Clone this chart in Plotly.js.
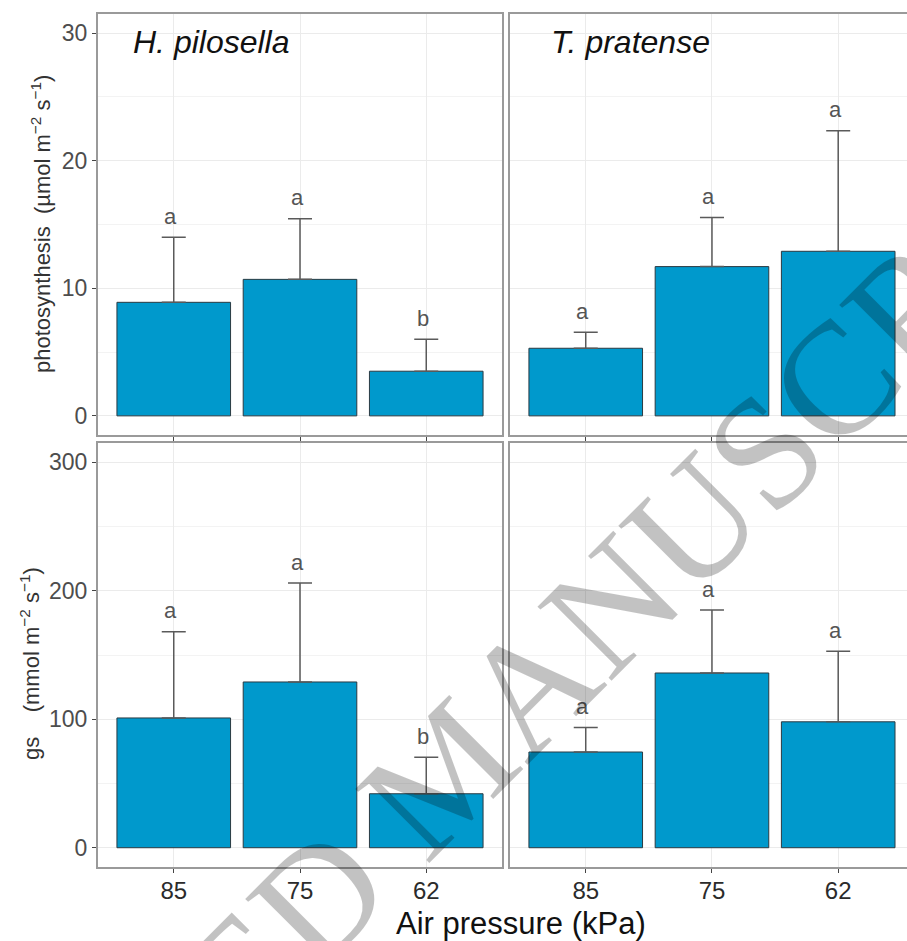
<!DOCTYPE html>
<html>
<head>
<meta charset="utf-8">
<script src="https://cdn.plot.ly/plotly-3.0.1.min.js"></script>
<style>html,body{margin:0;padding:0;background:#fff;}#chart{width:907px;height:941px;}</style>
</head>
<body>
<div id="chart"></div>
<script>
// ---- data ----
const categories = ['85', '75', '62'];
const species = ['H. pilosella', 'T. pratense'];

const photoHP = [8.9, 10.7, 3.5];
const photoHPerr = [5.1, 4.75, 2.5];
const photoHPletters = ['a', 'a', 'b'];

const photoTP = [5.3, 11.7, 12.9];
const photoTPerr = [1.25, 3.85, 9.45];
const photoTPletters = ['a', 'a', 'a'];

const gsHP = [101, 129, 42];
const gsHPerr = [67, 77, 28.5];
const gsHPletters = ['a', 'a', 'b'];

const gsTP = [74.5, 136, 98];
const gsTPerr = [19, 49, 55];
const gsTPletters = ['a', 'a', 'a'];

const yTitlePhoto = 'photosynthesis  (µmol m<sup>−2</sup> s<sup>−1</sup>)';
const yTitleGs = 'gs    (mmol m<sup>−2</sup> s<sup>−1</sup>)';
const xTitle = 'Air pressure (kPa)';
const watermark = 'ACCEPTED MANUSCRIPT';

// ---- layout helpers ----
const W = 907, H = 941;
const px = p => p / W;
const py = p => 1 - p / H;
const FONT = 'Liberation Sans, Arial, Helvetica, sans-serif';
const barColor = '#0099cc';

const panels = [
  {vals: gsHP, err: gsHPerr, letters: gsHPletters, xa: 'x', ya: 'y'},
  {vals: gsTP, err: gsTPerr, letters: gsTPletters, xa: 'x2', ya: 'y2'},
  {vals: photoHP, err: photoHPerr, letters: photoHPletters, xa: 'x3', ya: 'y3'},
  {vals: photoTP, err: photoTPerr, letters: photoTPletters, xa: 'x4', ya: 'y4'}
];

const traces = panels.map(p => ({
  type: 'bar',
  x: categories,
  y: p.vals,
  xaxis: p.xa,
  yaxis: p.ya,
  width: 0.9,
  marker: {color: barColor, line: {color: '#2a3a42', width: 1}},
  error_y: {
    type: 'data', symmetric: false,
    array: p.err, arrayminus: p.err.map(() => 0),
    color: '#5a5a5a', thickness: 1.5, width: 12
  },
  hoverinfo: 'x+y',
  showlegend: false
}));

const annotations = [];
panels.forEach(p => {
  categories.forEach((c, i) => {
    annotations.push({
      // category axes: annotation x is the category index
      x: i, y: p.vals[i] + p.err[i], xref: p.xa, yref: p.ya,
      text: p.letters[i], showarrow: false,
      xanchor: 'center', yanchor: 'middle', yshift: 21, xshift: -3,
      font: {family: FONT, size: 22, color: '#555555'}
    });
  });
});

// facet labels
annotations.push({
  x: px(131), y: py(42), xref: 'paper', yref: 'paper', xanchor: 'left', yanchor: 'middle',
  text: '<i>' + species[0] + '</i>', showarrow: false,
  font: {family: FONT, size: 32, color: '#111'}
});
annotations.push({
  x: px(549), y: py(42), xref: 'paper', yref: 'paper', xanchor: 'left', yanchor: 'middle',
  text: '<i>' + species[1] + '</i>', showarrow: false,
  font: {family: FONT, size: 32, color: '#111'}
});
// y titles
annotations.push({
  x: px(41), y: py(224), xref: 'paper', yref: 'paper', xanchor: 'center', yanchor: 'middle',
  text: yTitlePhoto, textangle: -90, showarrow: false,
  font: {family: FONT, size: 22, color: '#333'}
});
annotations.push({
  x: px(30), y: py(664), xref: 'paper', yref: 'paper', xanchor: 'center', yanchor: 'middle',
  text: yTitleGs, textangle: -90, showarrow: false,
  font: {family: FONT, size: 22, color: '#333'}
});
// x title
annotations.push({
  x: px(521), y: py(923), xref: 'paper', yref: 'paper', xanchor: 'center', yanchor: 'middle',
  text: xTitle, showarrow: false,
  font: {family: FONT, size: 31, color: '#111'}
});
// watermark
annotations.push({
  x: px(446), y: py(770), xref: 'paper', yref: 'paper', xanchor: 'center', yanchor: 'middle',
  text: watermark, textangle: -45, showarrow: false,
  font: {family: 'Liberation Serif, Times New Roman, serif', size: 160, color: 'rgba(0,0,0,0.24)'}
});

const xL = [px(98), px(502)], xR = [px(510), 1];
const yT = [py(435), py(14)], yB = [py(867), py(443)];

function xaxis(domain, anchor, range, labels) {
  return {
    domain, anchor, type: 'category', categoryorder: 'array', categoryarray: categories,
    range, showline: true, linecolor: '#9a9a9a', linewidth: 2, mirror: true,
    ticks: 'outside', ticklen: 4, tickcolor: '#444', tickwidth: 1,
    showgrid: true, gridcolor: '#ebebeb', gridwidth: 1, zeroline: false,
    showticklabels: labels, tickfont: {family: FONT, size: 24, color: '#2b2b2b'},
    ticklabelstandoff: -3,
    fixedrange: true
  };
}
function yaxis(domain, anchor, range, dtick, labels, mirror) {
  return {
    domain, anchor, range, dtick, tick0: 0,
    showline: true, linecolor: '#9a9a9a', linewidth: 2, mirror,
    ticks: labels ? 'outside' : '', ticklen: 4, tickcolor: '#444', tickwidth: 1,
    showgrid: true, gridcolor: '#ebebeb', gridwidth: 1, zeroline: false,
    minor: {dtick: dtick / 2, tick0: 0, showgrid: true, gridcolor: '#f3f3f3', gridwidth: 1, ticks: ''},
    showticklabels: labels, tickfont: {family: FONT, size: 23, color: '#4d4d4d'},
    fixedrange: true
  };
}

const layout = {
  width: W, height: H,
  margin: {l: 0, r: 0, t: 0, b: 0},
  paper_bgcolor: '#fff', plot_bgcolor: '#fff',
  barmode: 'group',
  showlegend: false,
  xaxis: xaxis(xL, 'y', [-0.6, 2.6], true),
  xaxis2: xaxis(xR, 'y2', [-0.6, 2.545], true),
  xaxis3: xaxis(xL, 'y3', [-0.6, 2.6], false),
  xaxis4: xaxis(xR, 'y4', [-0.6, 2.545], false),
  yaxis: yaxis(yB, 'x', [-15, 315], 100, true, true),
  yaxis2: yaxis(yB, 'x2', [-15, 315], 100, false, false),
  yaxis3: yaxis(yT, 'x3', [-1.5, 31.5], 10, true, true),
  yaxis4: yaxis(yT, 'x4', [-1.5, 31.5], 10, false, false),
  annotations
};

Plotly.newPlot('chart', traces, layout, {displayModeBar: false, staticPlot: true});
</script>
</body>
</html>
